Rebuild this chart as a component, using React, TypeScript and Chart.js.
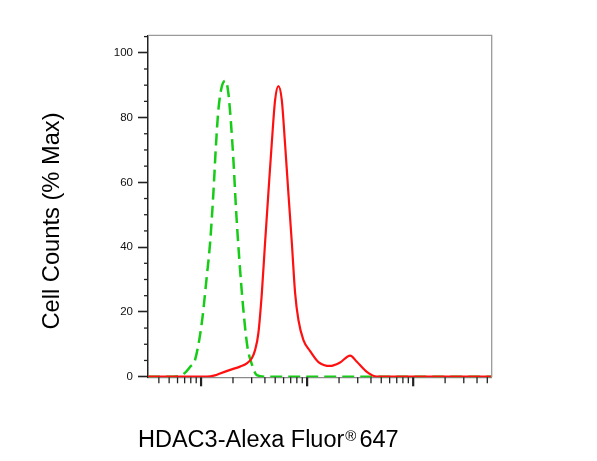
import { useEffect, useRef } from 'react';
import { Chart, registerables } from 'chart.js';

Chart.register(...registerables);

// Axis ranges (log x, linear y)
const X_MIN = 31.6;
const X_MAX = 55000;
const Y_MIN = -0.2;
const Y_MAX = 105.4;

// Tick values
const Y_MAJOR = [0, 20, 40, 60, 80, 100];
const Y_MINOR = [5, 10, 15, 25, 30, 35, 45, 50, 55, 65, 70, 75, 85, 90, 95, 105];
const X_MAJOR = [100, 1000, 10000];
const X_MINOR = [
  40, 50, 60, 70, 80, 90,
  200, 300, 400, 500, 600, 700, 800, 900,
  2000, 3000, 4000, 5000, 6000, 7000, 8000, 9000,
  20000, 30000, 40000, 50000,
];

// Labels
const X_TITLE_MAIN = 'HDAC3-Alexa Fluor';
const X_TITLE_SUP = '®';
const X_TITLE_END = '647';
const Y_TITLE = 'Cell Counts (% Max)';

// Stained sample (red, solid)
const RED_X = [31.6, 113, 135, 151, 188, 233, 270, 301, 323, 347, 374, 401, 431, 464, 499, 536, 577, 619, 666, 718, 771, 828, 923, 1067, 1279, 1648, 2048, 2545, 2944, 3656, 4547, 55000];
const RED_Y = [0, 0, 0.4, 1.0, 2.1, 3.1, 4.1, 5.7, 8.2, 13.4, 25.7, 41.2, 56.6, 72.0, 85.4, 89.7, 85.4, 72.0, 56.6, 41.2, 25.7, 17.5, 11.3, 7.9, 4.5, 3.3, 4.4, 6.5, 4.6, 1.5, 0, 0];

// Isotype control (green, dashed)
const GREEN_X = [31.6, 54.8, 68.1, 78.7, 87.8, 101.5, 113.2, 121.6, 130.6, 138.5, 145.6, 156.7, 171.0, 180.9, 190.6, 201.8, 213.9, 229.7, 250.6, 273.3, 300.8, 335.2, 416.9, 55000];
const GREEN_Y = [0, 0, 0.8, 3.0, 5.2, 16.5, 30.9, 41.2, 56.6, 72.0, 82.3, 89.5, 91.4, 87.5, 79.2, 66.9, 51.4, 36.0, 20.6, 9.3, 3.9, 0.5, 0, 0];

const FONT = "'Liberation Sans', Arial, sans-serif";

const decorPlugin = {
  id: 'decor',
  afterDraw(chart: any) {
    const { ctx, chartArea } = chart;
    const xs = chart.scales.x;
    const ys = chart.scales.y;
    ctx.save();
    // gray frame top + right
    ctx.strokeStyle = '#9a9a9a';
    ctx.lineWidth = 1.3;
    ctx.beginPath();
    ctx.moveTo(chartArea.left, chartArea.top);
    ctx.lineTo(chartArea.right, chartArea.top);
    ctx.lineTo(chartArea.right, chartArea.bottom);
    ctx.stroke();

    // y minor ticks
    ctx.strokeStyle = '#222';
    ctx.lineWidth = 1.3;
    for (const v of Y_MINOR) {
      const py = ys.getPixelForValue(v);
      ctx.beginPath();
      ctx.moveTo(chartArea.left - 4, py);
      ctx.lineTo(chartArea.left, py);
      ctx.stroke();
    }
    // x ticks
    for (const v of X_MINOR) {
      const px = xs.getPixelForValue(v);
      ctx.lineWidth = 1.3;
      ctx.beginPath();
      ctx.moveTo(px, chartArea.bottom);
      ctx.lineTo(px, chartArea.bottom + 6);
      ctx.stroke();
    }
    for (const v of X_MAJOR) {
      const px = xs.getPixelForValue(v);
      ctx.lineWidth = 2.2;
      ctx.beginPath();
      ctx.moveTo(px, chartArea.bottom);
      ctx.lineTo(px, chartArea.bottom + 9);
      ctx.stroke();
    }

    // titles
    ctx.fillStyle = '#000';
    ctx.textBaseline = 'alphabetic';
    ctx.textAlign = 'left';
    ctx.font = `23.5px ${FONT}`;
    const x0 = 138;
    ctx.fillText(X_TITLE_MAIN, x0, 446.7);
    const w1 = ctx.measureText(X_TITLE_MAIN).width;
    ctx.font = `15px ${FONT}`;
    ctx.fillText(X_TITLE_SUP, x0 + w1 + 1, 440.5);
    const w2 = ctx.measureText(X_TITLE_SUP).width;
    ctx.font = `23.5px ${FONT}`;
    ctx.fillText(X_TITLE_END, x0 + w1 + 1 + w2 + 3, 446.7);

    ctx.save();
    ctx.font = `23.7px ${FONT}`;
    ctx.translate(58.5, 221);
    ctx.rotate(-Math.PI / 2);
    ctx.textAlign = 'center';
    ctx.fillText(Y_TITLE, 0, 0);
    ctx.restore();

    ctx.restore();
  },
};

export default function App() {
  const ref = useRef<HTMLCanvasElement | null>(null);
  useEffect(() => {
    if (!ref.current) return;
    const chart = new Chart(ref.current, {
      type: 'line',
      data: {
        datasets: [
          {
            label: 'HDAC3',
            data: RED_X.map((x, i) => ({ x, y: RED_Y[i] })),
            borderColor: '#ff1010',
            borderWidth: 2.2,
            pointRadius: 0,
            fill: false,
            cubicInterpolationMode: 'monotone',
          },
          {
            label: 'Isotype',
            data: GREEN_X.map((x, i) => ({ x, y: GREEN_Y[i] })),
            borderColor: '#16cc16',
            borderWidth: 2.5,
            borderDash: [12, 6],
            pointRadius: 0,
            fill: false,
            cubicInterpolationMode: 'monotone',
          },
        ],
      },
      options: {
        responsive: false,
        animation: false,
        devicePixelRatio: 1,
        layout: { padding: { top: 35.3, right: 105.3, left: 0, bottom: 0 } },
        plugins: { legend: { display: false }, tooltip: { enabled: false } },
        scales: {
          x: {
            type: 'logarithmic',
            position: 'bottom',
            min: X_MIN,
            max: X_MAX,
            ticks: { display: false },
            grid: { display: false },
            border: { display: true, color: '#8a8a8a', width: 1.3 },
            afterFit: (s: any) => { s.height = 461 - 377.3; },
          },
          y: {
            type: 'linear',
            min: Y_MIN,
            max: Y_MAX,
            afterBuildTicks: (s: any) => { s.ticks = Y_MAJOR.map((v) => ({ value: v })); },
            afterFit: (s: any) => { s.width = 148; },
            ticks: {
              color: '#111',
              padding: 5,
              font: { family: FONT, size: 11.5 },
            },
            grid: {
              drawOnChartArea: false,
              drawTicks: true,
              tickLength: 10,
              tickColor: '#222',
              tickWidth: 1.6,
            },
            border: { display: true, color: '#222', width: 1.5 },
          },
        },
      },
      plugins: [decorPlugin],
    } as any);
    return () => chart.destroy();
  }, []);
  return (
    <div style={{ position: 'absolute', left: 0, top: 0, width: 597, height: 461, background: '#fff' }}>
      <canvas ref={ref} width={597} height={461} style={{ display: 'block' }} />
    </div>
  );
}
